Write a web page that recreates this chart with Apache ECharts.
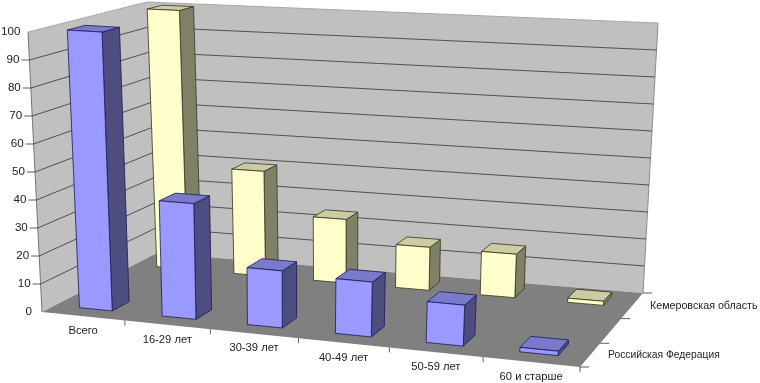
<!DOCTYPE html>
<html><head><meta charset="utf-8">
<style>html,body{margin:0;padding:0;background:#fff}#c{width:760px;height:383px}</style>
<script src="https://cdn.jsdelivr.net/npm/echarts@6/dist/echarts.min.js"></script>
</head><body><div id="c"></div>
<script>
const categories = ['Всего','16-29 лет','30-39 лет','40-49 лет','50-59 лет','60 и старше'];
const yTicks = [0,10,20,30,40,50,60,70,80,90,100];
const depthLabels = ['Российская Федерация','','Кемеровская область'];
const russia = [100,41,20,19,14,1.5];
const kemerovo = [100,40,24,16,16,1.5];

// Anchors of the oblique 3-D frame on the page (frame only, not data)
const FLB=[42,312],FRB=[580,367],BLB=[157,253],BRB=[643,293],FLT=[28,32],FRT=[598,66],BLT=[147,2],BRT=[658,23];
const WARP_U=0.098, WARP_V=0.06;
const lerp=(a,b,t)=>[a[0]+(b[0]-a[0])*t,a[1]+(b[1]-a[1])*t];
function proj(u,v,h){
  const U=u/(1+WARP_U*(1-u)), V=v/(1+WARP_V*(1-v));
  const bottom=lerp(lerp(FLB,FRB,U),lerp(BLB,BRB,U),V);
  const top=lerp(lerp(FLT,FRT,U),lerp(BLT,BRT,U),V);
  return lerp(bottom,top,h);
}
const W=760,H=383;
function unit(api,cat,val){const p=api.coord([cat,val]);return [p[0]/W,1-p[1]/H];}
const poly=(points,fill,stroke,lw)=>({type:'polygon',shape:{points},style:{fill,stroke:stroke||'none',lineWidth:lw||0}});
const line=(a,b,stroke,lw)=>({type:'line',shape:{x1:a[0],y1:a[1],x2:b[0],y2:b[1]},style:{stroke,lineWidth:lw||1}});
const FONT='"Liberation Sans",Arial,sans-serif';
const text=(s,p,align,sx)=>({type:'text',x:p[0],y:p[1],scaleX:sx||1.16,style:{text:s,x:0,y:0,align,verticalAlign:'middle',fill:'#222',font:'10px '+FONT}});

function frameItem(params,api){
  return {type:'group',children:[
    poly([FLB,BLB,BLT,FLT],'#c0c0c0'),
    poly([BLB,BRB,BRT,BLT],'#c0c0c0'),
    line(FLB,FLT,'#777',1),line(BRB,BRT,'#8c8c8c',1),line(FLT,BLT,'#a8a8a8',1),line(BLT,BRT,'#a8a8a8',1)
  ]};
}
function gridItem(params,api){
  const val=api.value(1),h=unit(api,0,val)[1];
  const a=proj(0,0,h),b=proj(0,1,h),c=proj(1,1,h);
  const ch=[];
  const top=yTicks[yTicks.length-1];
  if(val>0&&val<top){
    ch.push(line(a,b,'#333',0.8),line(b,c,'#333',0.8),line(a,[a[0]-8,a[1]],'#333',0.8));
  }
  if(val===top) ch.push(text(String(val),[1,a[1]],'left'));
  else ch.push(text(String(val),[a[0]-10,a[1]],'right'));
  return {type:'group',children:ch};
}
function floorItem(){
  return {type:'group',children:[poly([FLB,FRB,BRB,BLB],'#808080')]};
}
function catItem(params,api){
  const i=api.value(0),u0=unit(api,i,0)[0],u1=unit(api,i+1,0)[0];
  const a=proj(u1,0,0),m=proj((u0+u1)/2,0,0);
  return {type:'group',children:[
    line(a,[a[0],a[1]+5],'#333',0.8),
    text(categories[i],[m[0],m[1]+15],'center',1.12)
  ]};
}
function depthItem(params,api){
  const i=api.value(0),n=depthLabels.length;
  const a=proj(1,(i+1)/n,0);const m=proj(1,(i+.5)/n,0);
  const ch=[line(a,[a[0]+9,a[1]],'#333',0.8)];
  if(i===0){const o=proj(1,0,0);ch.push(line(o,[o[0]+9,o[1]],'#333',0.8));}
  if(depthLabels[i])ch.push(text(depthLabels[i],[m[0]+(i===0?18:18),m[1]],'left',i===0?1.03:1.07));
  return {type:'group',children:ch};
}
function barRender(va,vb,c){
  return function(params,api){
    const i=api.value(0),val=api.value(1);
    const u0=unit(api,i,0)[0],u1=unit(api,i+1,0)[0];
    const h=unit(api,i,val)[1];
    const ua=u0+(u1-u0)*0.3,ub=u0+(u1-u0)*0.7;
    const A=proj(ua,va,0),B=proj(ub,va,0),C=proj(ub,vb,0);
    const At=proj(ua,va,h),Bt=proj(ub,va,h),Ct=proj(ub,vb,h),Dt=proj(ua,vb,h);
    return {type:'group',children:[
      poly([B,C,Ct,Bt],c.side,c.edge,0.8),
      poly([At,Bt,Ct,Dt],c.top,c.edge,0.8),
      poly([A,B,Bt,At],c.front,c.edge,0.8)
    ]};
  };
}
const idx=a=>a.map((v,i)=>[i,v]);
const option={
  animation:false,
  backgroundColor:'#fff',
  grid:{left:0,right:0,top:0,bottom:0,show:false},
  xAxis:{type:'value',min:0,max:6,show:false},
  yAxis:{type:'value',min:0,max:100,show:false},
  series:[
    {type:'custom',name:'frame',z:1,data:[[0,0]],renderItem:frameItem,clip:false,silent:true},
    {type:'custom',name:'grid',z:2,data:yTicks.map(v=>[0,v]),renderItem:gridItem,clip:false,silent:true},
    {type:'custom',name:'floor',z:3,data:[[0,0]],renderItem:floorItem,clip:false,silent:true},
    {type:'custom',name:'cats',z:4,data:categories.map((c,i)=>[i,0]),renderItem:catItem,clip:false,silent:true},
    {type:'custom',name:'depth',z:4,data:depthLabels.map((c,i)=>[i,0]),renderItem:depthItem,clip:false,silent:true},
    {type:'custom',name:'Кемеровская область',z:5,data:idx(kemerovo),renderItem:barRender(0.81,0.93,{front:'#ffffcc',side:'#808066',top:'#cccca3',edge:'#33331f'}),clip:false},
    {type:'custom',name:'Российская Федерация',z:6,data:idx(russia),renderItem:barRender(0.12,0.28,{front:'#9999ff',side:'#4d4d80',top:'#7a7acc',edge:'#1a1a55'}),clip:false}
  ]
};
echarts.init(document.getElementById('c'),null,{renderer:'canvas'}).setOption(option);
</script></body></html>
